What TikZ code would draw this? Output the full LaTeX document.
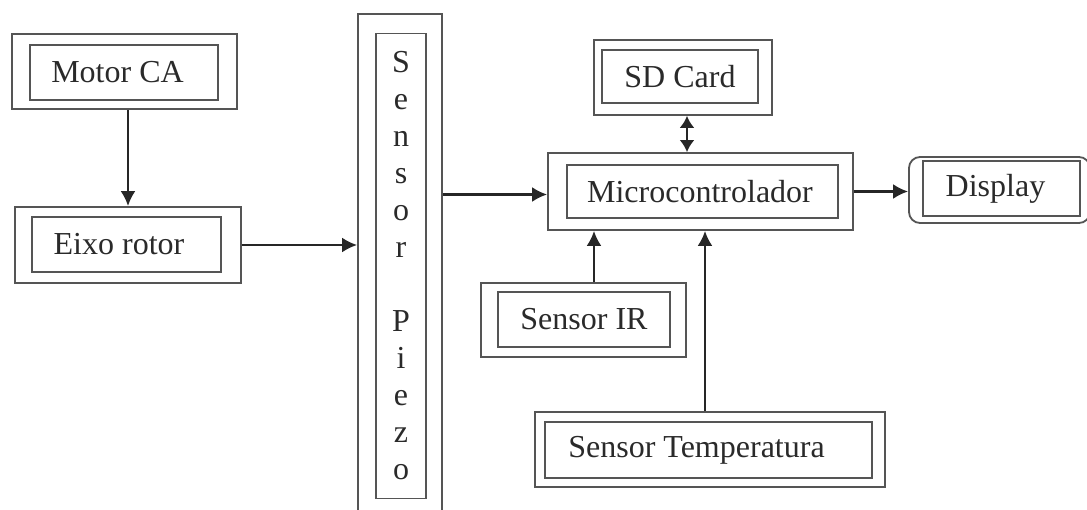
\documentclass[tikz,border=0pt]{standalone}
\usepackage{fontspec}
\setmainfont{Liberation Serif}
\usetikzlibrary{arrows.meta}
\definecolor{boxc}{HTML}{555555}
\definecolor{txtc}{HTML}{2A2A2A}
\begin{document}
\begin{tikzpicture}[x=1pt,y=-1pt,
  outerbox/.style={draw=boxc,line width=1.8pt,rectangle,inner sep=0pt},
  innerbox/.style={draw=boxc,line width=1.8pt,rectangle,inner sep=0pt,text=txtc,
    font=\fontsize{32}{37}\selectfont},
  txt/.style={text=txtc,font=\fontsize{32}{37}\selectfont,inner sep=0pt},
  arr/.style={line width=2.5pt,draw=black!85,-{Latex[length=15pt,width=15pt]}},
  darr/.style={line width=2.5pt,draw=black!85,{Latex[length=12pt,width=15pt]}-{Latex[length=12pt,width=15pt]}}]
\fill[white] (0,0) rectangle (1087,510);
\useasboundingbox (0,0) rectangle (1087,510);
% Motor CA
\node[outerbox,minimum width=225pt,minimum height=75pt] (motorO) at (124.5,71.5) {};
\node[innerbox,minimum width=188pt,minimum height=55pt,
  label={[txt,xshift=-6.5pt]center:Motor CA}] (motor) at (124,72.5) {};
% Eixo rotor
\node[outerbox,minimum width=226pt,minimum height=76pt] (eixoO) at (128,245) {};
\node[innerbox,minimum width=189pt,minimum height=55pt,
  label={[txt,xshift=-7.5pt]center:Eixo rotor}] (eixo) at (126.5,244.5) {};
% Sensor Piezo
\node[outerbox,minimum width=84pt,minimum height=506pt] (piezoO) at (400,267) {};
\node[innerbox,minimum width=50pt,minimum height=465pt,align=center] (piezo) at (401,266)
  {S\\e\\n\\s\\o\\r\\[37pt]P\\i\\e\\z\\o};
% Microcontrolador
\node[outerbox,minimum width=305pt,minimum height=77pt] (microO) at (700.5,191.5) {};
\node[innerbox,minimum width=271pt,minimum height=53pt,
  label={[txt,xshift=-2.5pt]center:Microcontrolador}] (micro) at (702.5,191.5) {};
% SD Card
\node[outerbox,minimum width=178pt,minimum height=75pt] (sdO) at (683,77.5) {};
\node[innerbox,minimum width=156pt,minimum height=53pt] (sd) at (680,76.5) {SD Card};
% Display
\node[outerbox,rounded corners=11pt,minimum width=181pt,minimum height=66pt] (dispO) at (999.5,190) {};
\node[innerbox,minimum width=157pt,minimum height=55pt,
  label={[txt,xshift=-6pt]center:Display}] (disp) at (1001.5,188.5) {};
% Sensor IR
\node[outerbox,minimum width=205pt,minimum height=74pt] (irO) at (583.5,320) {};
\node[innerbox,minimum width=172pt,minimum height=55pt] (ir) at (584,319.5) {Sensor IR};
% Sensor Temperatura
\node[outerbox,minimum width=350pt,minimum height=75pt] (tempO) at (710,449.5) {};
\node[innerbox,minimum width=327pt,minimum height=56pt,
  label={[txt,xshift=-12pt]center:Sensor Temperatura}] (temp) at (708.5,450) {};
% connectors
\draw[arr] (motorO.south -| eixoO.north) -- (eixoO.north);
\draw[arr] (eixoO.east) -- (eixoO.east -| piezoO.west);
\draw[arr] ([yshift=-3pt]piezoO.east |- microO.west) -- ([yshift=-3pt]microO.west);
\draw[darr] ([xshift=4pt]sdO.south) -- ([xshift=4pt]sdO.south |- microO.north);
\draw[arr] (microO.east) -- (microO.east -| dispO.west);
\draw[arr] ([xshift=10.5pt]irO.north) -- ([xshift=10.5pt]irO.north |- microO.south);
\draw[arr] ([xshift=-5pt]tempO.north) -- ([xshift=-5pt]tempO.north |- microO.south);
\end{tikzpicture}
\end{document}
